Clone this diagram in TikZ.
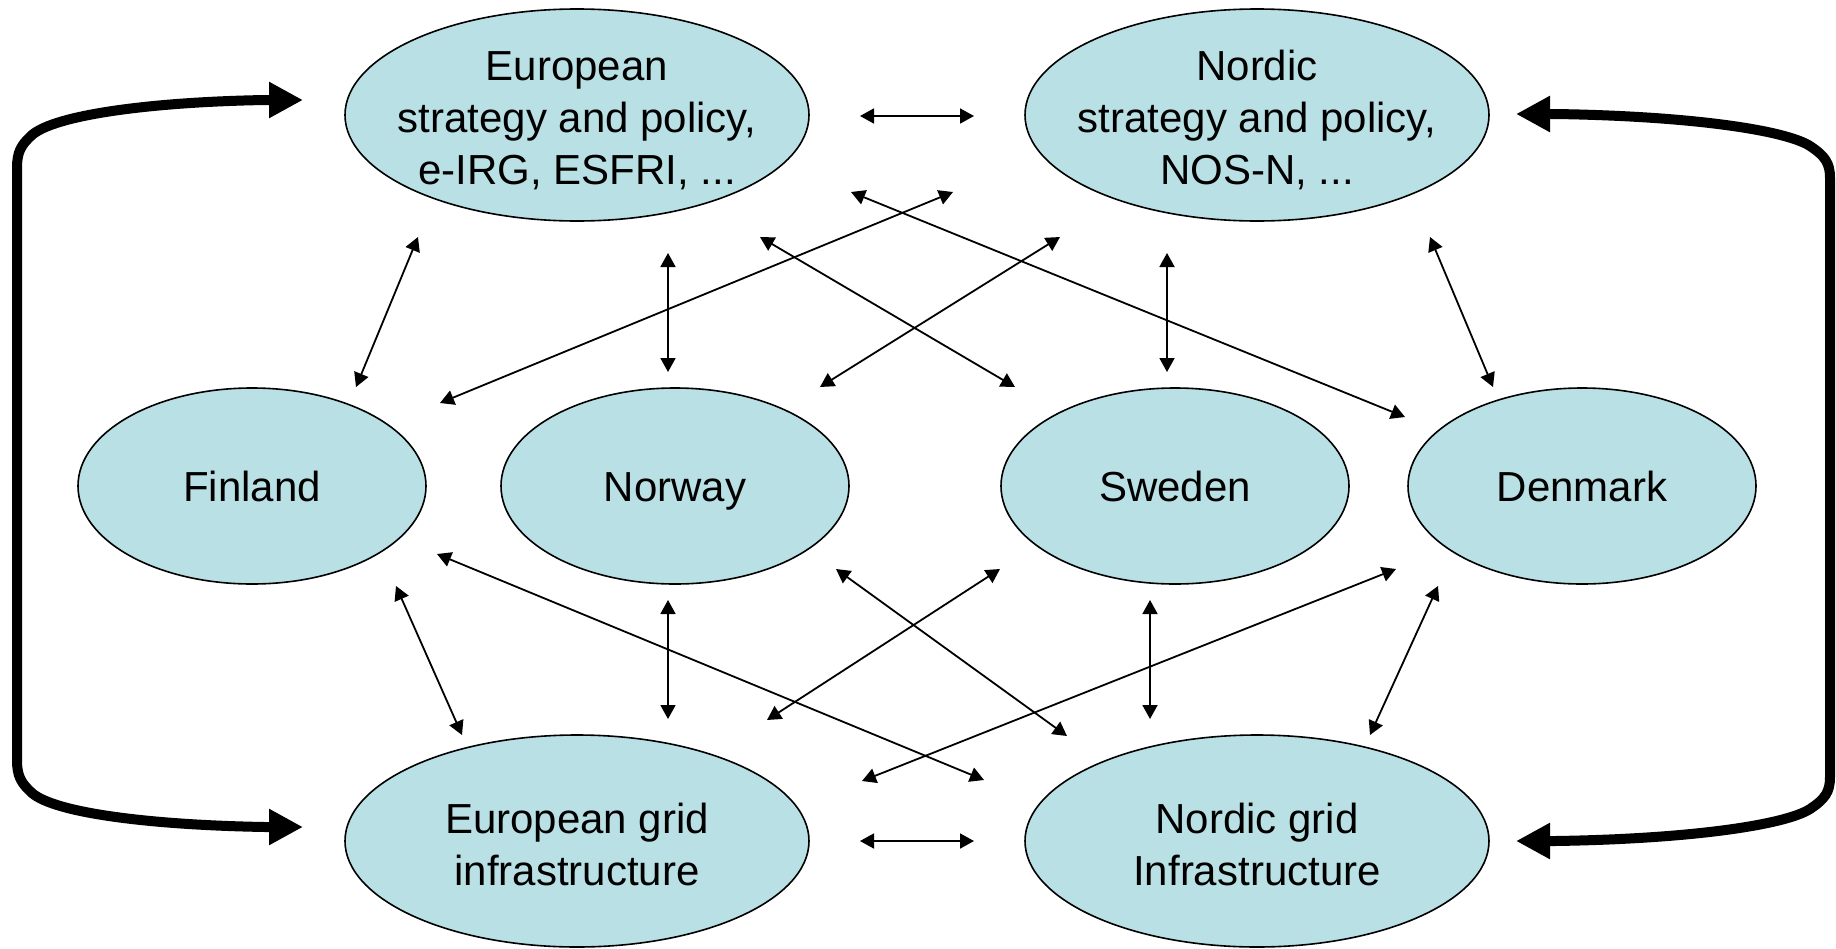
\documentclass[tikz,border=0pt]{standalone}
\usepackage{fontspec}
\setmainfont{Liberation Sans}
\usetikzlibrary{arrows.meta,shapes.geometric}
\definecolor{bubfill}{RGB}{185,224,228}
\newcommand{\topstrut}[1]{\rule{0pt}{#1}}
\begin{document}
\begin{tikzpicture}[x=1pt,y=-1pt,
  bub/.style={ellipse,draw=black,line width=1.6pt,fill=bubfill,inner sep=-30pt,align=center,font=\fontsize{42}{52}\selectfont},
  big/.style={bub,minimum width=464pt,minimum height=212pt},
  small/.style={bub,minimum width=348pt,minimum height=196pt,text height=30pt,text depth=0pt},
  link/.style={line width=1.8pt,{Triangle[length=14pt,width=15pt]}-{Triangle[length=14pt,width=15pt]}},
  loopar/.style={line width=10pt,{Triangle[length=34pt,width=34pt]}-{Triangle[length=34pt,width=34pt]}}]
\useasboundingbox (0,0) rectangle (1836,948);
% ellipses
\node[big] (eus) at (577,115) {\topstrut{40pt}European\\strategy and policy,\\e-IRG, ESFRI, ...};
\node[big] (nos) at (1257,115) {\topstrut{40pt}Nordic\\strategy and policy,\\NOS-N, ...};
\node[small] (fi) at (252,486) {Finland};
\node[small] (no) at (675,486) {Norway};
\node[small] (se) at (1175,486) {Sweden};
\node[small] (dk) at (1582,486) {Denmark};
\node[big] (eug) at (577,841) {\topstrut{37pt}European grid\\infrastructure};
\node[big] (nog) at (1257,841) {\topstrut{37pt}Nordic grid\\Infrastructure};
% connector end points
\coordinate (a1) at (860,116);  \coordinate (b1) at (974,116);
\coordinate (a2) at (860,841);  \coordinate (b2) at (974,841);
\coordinate (a3) at (418,237);  \coordinate (b3) at (356,387);
\coordinate (a4) at (668,253);  \coordinate (b4) at (668,372);
\coordinate (a5) at (953,192);  \coordinate (b5) at (440,403);
\coordinate (a6) at (760,237);  \coordinate (b6) at (1015,387);
\coordinate (a7) at (1060,237); \coordinate (b7) at (820,387);
\coordinate (a8) at (851,192);  \coordinate (b8) at (1405,417);
\coordinate (a9) at (1167,253); \coordinate (b9) at (1167,372);
\coordinate (a10) at (1430,237); \coordinate (b10) at (1493,387);
\coordinate (a11) at (396,586); \coordinate (b11) at (462,735);
\coordinate (a12) at (437,554); \coordinate (b12) at (984,780);
\coordinate (a13) at (668,600); \coordinate (b13) at (668,719);
\coordinate (a14) at (836,569); \coordinate (b14) at (1067,736);
\coordinate (a15) at (1000,569); \coordinate (b15) at (767,720);
\coordinate (a16) at (1150,600); \coordinate (b16) at (1150,719);
\coordinate (a17) at (1396,569); \coordinate (b17) at (862,781);
\coordinate (a18) at (1438,586); \coordinate (b18) at (1370,735);
\foreach \i in {1,...,18} {\draw[link] (a\i) -- (b\i);}
% thick loop arrows
\coordinate (lt) at (303,100); \coordinate (lb) at (303,827);
\coordinate (rt) at (1516,114); \coordinate (rb) at (1516,841);
\draw[loopar] (lt) -- (265,100) .. controls (150,102) and (55,115) .. (32,135)
  .. controls (21,145) and (17,152) .. (17,168) -- (17,760)
  .. controls (17,776) and (21,783) .. (32,793)
  .. controls (55,813) and (150,825) .. (265,827) -- (lb);
\draw[loopar] (rt) -- (1555,114) .. controls (1690,116) and (1785,130) .. (1810,146)
  .. controls (1825,156) and (1830,163) .. (1830,178) -- (1830,777)
  .. controls (1830,792) and (1825,799) .. (1810,809)
  .. controls (1785,825) and (1690,839) .. (1555,841) -- (rb);
\end{tikzpicture}
\end{document}
